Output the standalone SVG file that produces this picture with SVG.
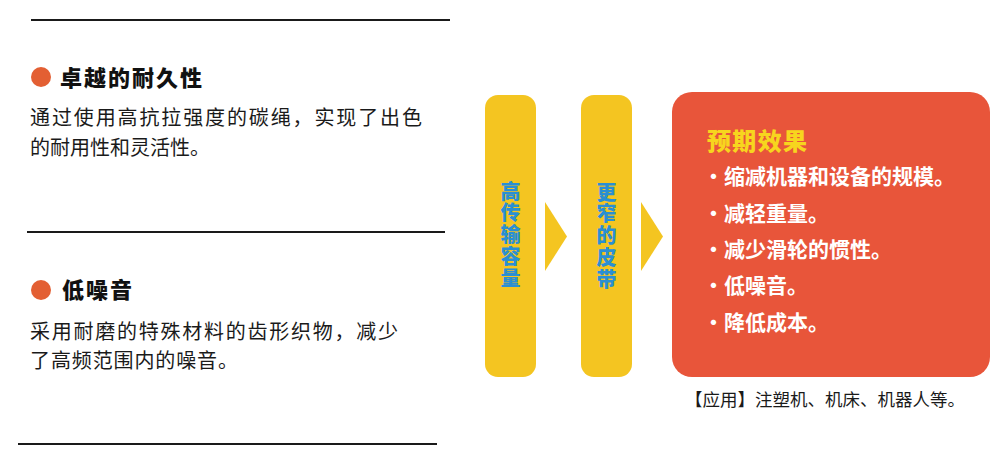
<svg xmlns="http://www.w3.org/2000/svg" width="1000" height="459" viewBox="0 0 1000 459">
<style>
.cjk{font-family:"Noto Sans CJK SC","Noto Sans",sans-serif}
.rule{stroke:#1a1a1a;stroke-width:2}
.dot{fill:#E35F33}
.h{font-size:22px;font-weight:900;fill:#111}
.body{font-size:20px;fill:#1a1a1a}
.pill{fill:#F4C521}
.arr{fill:#F4C521}
.vt{font-size:20px;font-weight:900;fill:#2A8FD3;writing-mode:vertical-rl;letter-spacing:1.8px}
.item{font-size:21px;font-weight:700;fill:#fff}
</style>
<rect width="1000" height="459" fill="#fff"/>
<g id="rules">
<line class="rule" x1="31" y1="20" x2="450" y2="20"/>
<line class="rule" x1="27" y1="232" x2="445" y2="232"/>
<line class="rule" x1="18" y1="444" x2="437" y2="444"/>
</g>
<g id="feature-durability" class="cjk">
<circle class="dot" cx="41" cy="77" r="10"/>
<text class="h" x="60" y="86" textLength="142" lengthAdjust="spacing">卓越的耐久性</text>
<text class="body" x="30" y="125" textLength="392" lengthAdjust="spacing">通过使用高抗拉强度的碳绳，实现了出色</text>
<text class="body" x="30" y="155">的耐用性和灵活性。</text>
</g>
<g id="feature-noise" class="cjk">
<circle class="dot" cx="41" cy="290" r="10"/>
<text class="h" x="62" y="298" textLength="70" lengthAdjust="spacing">低噪音</text>
<text class="body" x="30" y="339" textLength="368" lengthAdjust="spacing">采用耐磨的特殊材料的齿形织物，减少</text>
<text class="body" x="30" y="368" textLength="208" lengthAdjust="spacing">了高频范围内的噪音。</text>
</g>
<g id="node-capacity" class="cjk">
<rect class="pill" x="485" y="95" width="51" height="282" rx="13"/>
<text class="vt" x="510.5" y="181">高传输容量</text>
</g>
<g id="node-belt" class="cjk">
<rect class="pill" x="581" y="95" width="51" height="282" rx="13"/>
<text class="vt" x="606.5" y="182">更窄的皮带</text>
</g>
<g id="connectors">
<polygon class="arr" points="545,202 567,236.5 545,271"/>
<polygon class="arr" points="641,202 663,236.5 641,271"/>
</g>
<g id="node-effects" class="cjk">
<rect x="672" y="92" width="318" height="285" rx="20" fill="#E8553A"/>
<text x="707" y="150" font-size="24" font-weight="900" fill="#F7D51E" textLength="100" lengthAdjust="spacing">预期效果</text>
<text class="item" x="703" y="184">・缩减机器和设备的规模。</text>
<text class="item" x="703" y="221">・减轻重量。</text>
<text class="item" x="703" y="257">・减少滑轮的惯性。</text>
<text class="item" x="703" y="293">・低噪音。</text>
<text class="item" x="703" y="330">・降低成本。</text>
</g>
<g id="caption" class="cjk">
<text x="685" y="406" font-size="17.5" fill="#1a1a1a" textLength="280" lengthAdjust="spacing">【应用】注塑机、机床、机器人等。</text>
</g>
</svg>
